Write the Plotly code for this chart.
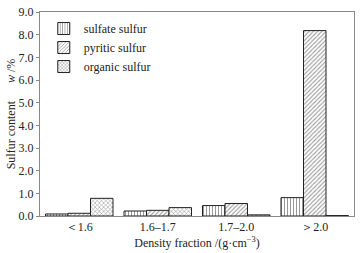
import plotly.graph_objects as go

categories = ["＜1.6", "1.6–1.7", "1.7–2.0", "＞2.0"]
sulfate = [0.09, 0.22, 0.46, 0.81]
pyritic = [0.12, 0.25, 0.55, 8.18]
organic = [0.78, 0.37, 0.05, 0.02]
series_names = ["sulfate sulfur", "pyritic sulfur", "organic sulfur"]
y_ticks = [0, 1, 2, 3, 4, 5, 6, 7, 8, 9]

FONT = "Liberation Serif, Times New Roman, serif"
patterns = ["|", "/", "x"]
psizes = [3, 3, 3]

fig = go.Figure()
for name, vals, pat, ps in zip(series_names, [sulfate, pyritic, organic], patterns, psizes):
    fig.add_trace(go.Bar(
        x=categories, y=vals, name=name,
        marker=dict(color="white", line=dict(color="#222", width=1),
                    pattern=dict(shape=pat, fgcolor="#333", bgcolor="white",
                                 size=ps, solidity=0.35)),
    ))

fig.update_layout(
    width=360, height=253,
    margin=dict(l=40, r=5, t=8, b=36),
    barmode="group", bargap=0.14, bargroupgap=0,
    plot_bgcolor="white", paper_bgcolor="white",
    font=dict(family=FONT, size=12, color="#222"),
    legend=dict(x=0.012, y=0.99, xanchor="left", yanchor="top",
                bgcolor="rgba(0,0,0,0)", font=dict(size=12, family=FONT),
                tracegroupgap=0, itemwidth=30),
    xaxis=dict(showline=True, linecolor="#888", mirror=True, ticks="",
               tickfont=dict(size=12),
               title=dict(text="Density fraction /(g·cm<sup>−3</sup>)",
                          font=dict(size=12), standoff=5)),
    yaxis=dict(range=[0, 9], tickvals=y_ticks, tickformat=".1f", showline=True,
               linecolor="#888", mirror=True, ticks="outside", ticklen=3,
               tickcolor="#888", showgrid=False, zeroline=False,
               tickfont=dict(size=12),
               title=dict(text="Sulfur content      <i>w</i> /%", font=dict(size=12), standoff=0)),
)

fig.write_html("out.html", config={"displayModeBar": False},
               post_script="document.body.style.margin='0';document.body.style.padding='0';")
